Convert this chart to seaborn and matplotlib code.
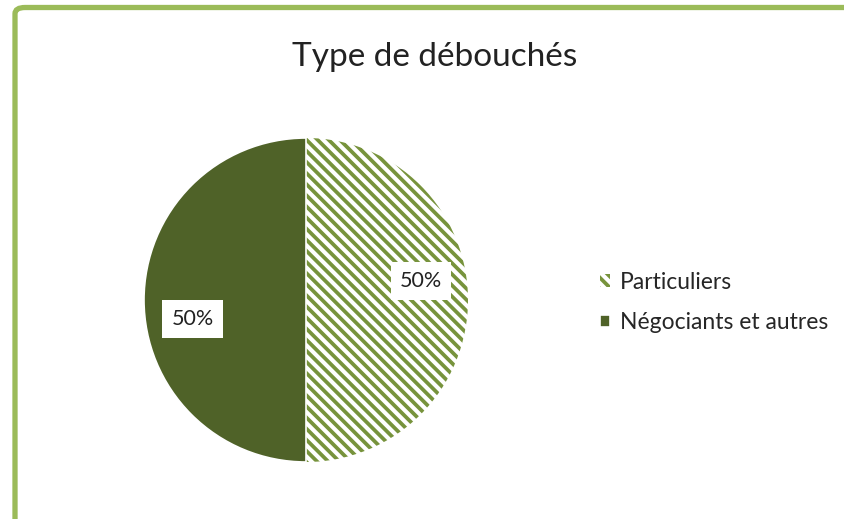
import matplotlib
matplotlib.use("Agg")
import matplotlib.pyplot as plt
import seaborn as sns
from matplotlib.patches import FancyBboxPatch

# -----------------------------
# Data
# -----------------------------
categories = ["Particuliers", "Négociants et autres"]
shares = [50, 50]
title = "Type de débouchés"

sns.set_theme(style="white")
plt.rcParams["font.family"] = ["Lato", "DejaVu Sans"]
plt.rcParams["hatch.linewidth"] = 2.7

light_green = "#77933C"
dark_green = "#4F6228"
frame_green = "#9BBB59"

fig = plt.figure(figsize=(8.44, 5.19), dpi=100)
W, H = 844, 519

# outer frame (rounded, runs off the right and bottom edges)
frame = FancyBboxPatch(
    (15 / W, -0.2), 1.2, (H - 7.5) / H + 0.2,
    boxstyle="round,pad=0,rounding_size=0.012",
    transform=fig.transFigure, facecolor="none",
    edgecolor=frame_green, linewidth=3.8, zorder=-1
)
fig.patches.append(frame)

fig.text(435 / W, 1 - 57 / H, title, ha="center", va="center",
         fontsize=24, color="#222222")

# -----------------------------
# Pie
# -----------------------------
ax = fig.add_axes([144 / W, 57 / H, 324 / W, 324 / H])
wedges, texts, autotexts = ax.pie(
    shares,
    startangle=90,
    counterclock=False,
    autopct="%1.0f%%",
    pctdistance=0.72,
    textprops={"fontsize": 15.5, "color": "#222222"},
)
ax.set_xlim(-1, 1)
ax.set_ylim(-1, 1)
ax.set_aspect("equal")
ax.axis("off")

# Particuliers: hatched
wedges[0].set_facecolor("white")
wedges[0].set_edgecolor(light_green)
wedges[0].set_hatch("\\\\\\")
wedges[0].set_linewidth(0)
# Négociants: solid
wedges[1].set_facecolor(dark_green)
wedges[1].set_edgecolor("white")
wedges[1].set_linewidth(1.2)

label_pos = [(0.71, 0.12), (-0.70, -0.12)]
for t, p in zip(autotexts, label_pos):
    t.set_position(p)
    t.set_bbox(dict(facecolor="white", edgecolor="none", pad=6.5))

leg = fig.legend(
    wedges, categories,
    loc="upper left", bbox_to_anchor=(579 / W, 1 - 251 / H),
    frameon=False, fontsize=16.5, labelspacing=0.85,
    handlelength=0.45, handleheight=0.45, handletextpad=0.45,
)

fig.savefig("out.png", dpi=100)
